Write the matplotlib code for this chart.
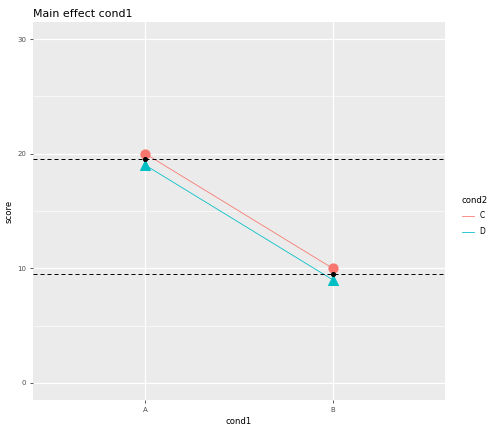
import matplotlib
matplotlib.use("Agg")
import matplotlib.pyplot as plt
from matplotlib.lines import Line2D

cats = ["A", "B"]
c_vals = [20, 10]
d_vals = [19, 9]
means = [19.5, 9.5]
yticks = [0, 10, 20, 30]

fig = plt.figure(figsize=(7, 6), dpi=72)
ax = fig.add_axes([33/504, 32/432, (445-33)/504, (400-22)/432])
ax.set_facecolor("#EBEBEB")
x = [1, 2]
ax.set_xlim(0.4, 2.6)
ax.set_ylim(-1.5, 31.5)
for v in [5, 15, 25]:
    ax.axhline(v, color="white", lw=0.6, zorder=0)
for v in yticks:
    ax.axhline(v, color="white", lw=1.2, zorder=0)
for v in x:
    ax.axvline(v, color="white", lw=1.2, zorder=0)
red, teal = "#F8766D", "#00BFC4"
ax.plot(x, c_vals, color=red, lw=0.8, zorder=2)
ax.plot(x, d_vals, color=teal, lw=0.8, zorder=2)
ax.scatter(x, c_vals, s=85, color=red, marker="o", zorder=3)
ax.scatter(x, d_vals, s=100, color=teal, marker="^", zorder=3)
ax.scatter(x, means, s=16, color="black", zorder=4)
for m in means:
    ax.axhline(m, color="black", lw=1, ls=(0, (4, 3)), zorder=3)
ax.set_xticks(x)
ax.set_xticklabels(cats)
ax.set_yticks(yticks)
for s in ax.spines.values():
    s.set_visible(False)
ax.tick_params(colors="#333333", labelsize=7, length=3, color="#333333")
ax.tick_params(labelcolor="#4D4D4D")
ax.set_xlabel("cond1", fontsize=8.5)
ax.set_ylabel("score", fontsize=8.5)
ax.set_title("Main effect cond1", loc="left", fontsize=11, pad=5)
handles = [Line2D([], [], color=red, lw=0.8), Line2D([], [], color=teal, lw=0.8)]
leg = fig.legend(handles, ["C", "D"], title="cond2", loc="center left",
                 bbox_to_anchor=(455/504, 0.5), frameon=False, fontsize=7.5,
                 title_fontsize=8.5, handlelength=1.6, labelspacing=0.9)
leg._legend_box.align = "left"
fig.savefig("out.png", dpi=72)
